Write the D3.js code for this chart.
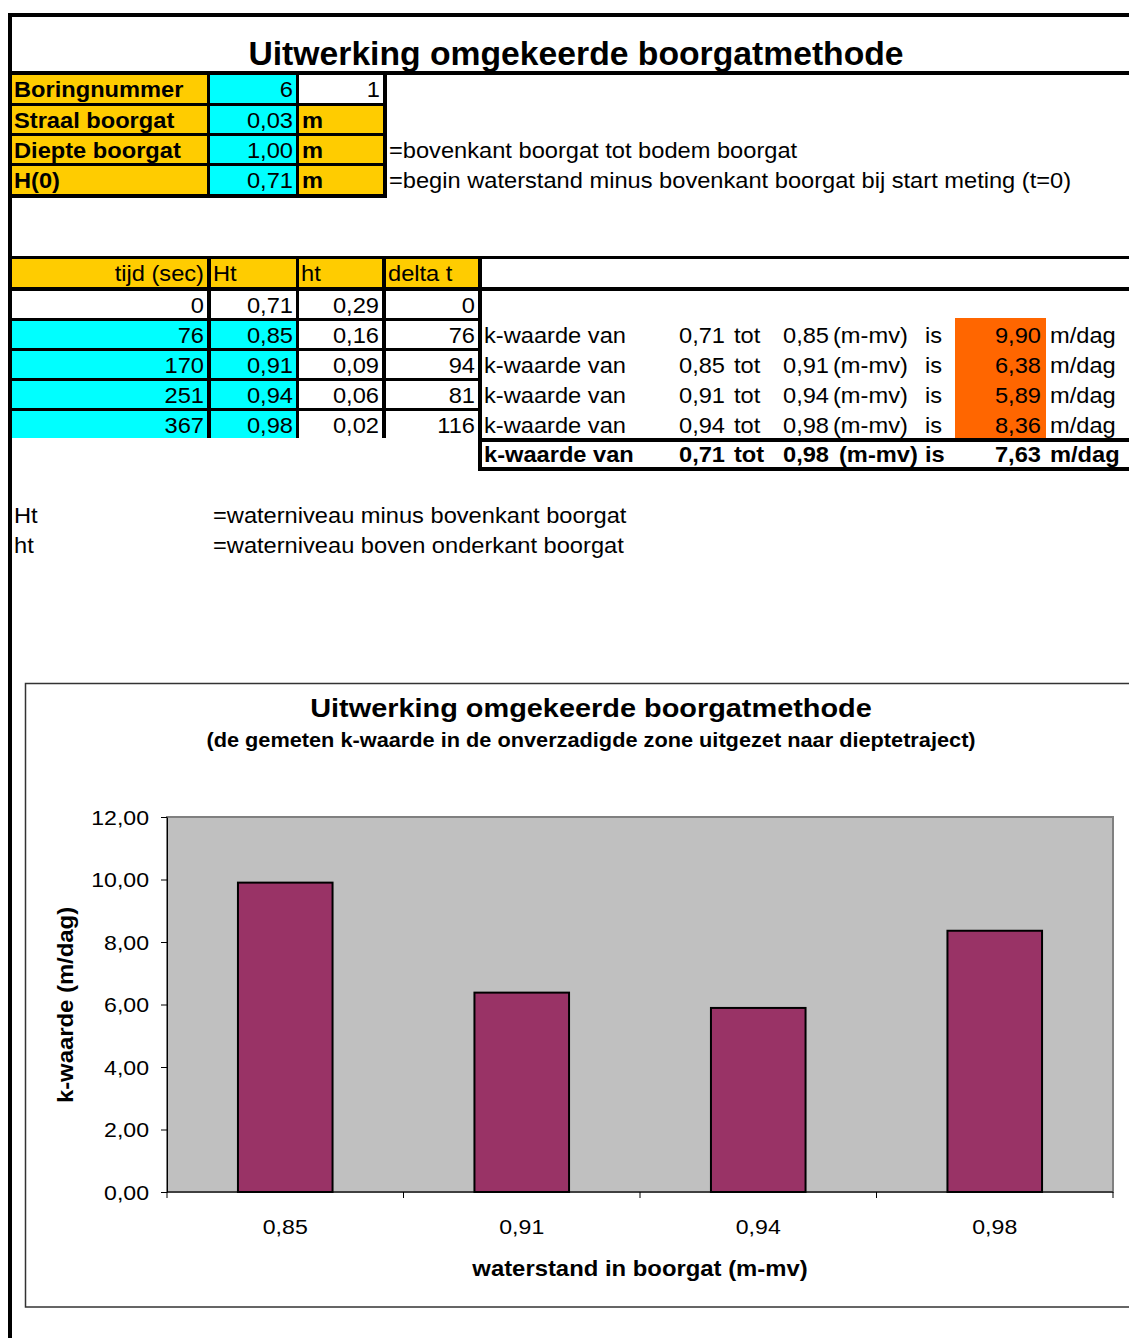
<!DOCTYPE html>
<html>
<head>
<meta charset="utf-8">
<script src="https://cdn.jsdelivr.net/npm/d3@7"></script>
<style>
  html, body { margin: 0; padding: 0; background: #fff; }
  svg { display: block; }
  text { font-family: "Liberation Sans", Arial, Helvetica, sans-serif; fill: #000; }
</style>
</head>
<body>
<svg id="sheet" width="1129" height="1338"></svg>
<script>
// ---- worksheet values ----
const sheetTitle = 'Uitwerking omgekeerde boorgatmethode';
const paramLabels = ['Boringnummer', 'Straal boorgat', 'Diepte boorgat', 'H(0)'];
const paramValues = ['6', '0,03', '1,00', '0,71'];
const paramExtra = ['1', 'm', 'm', 'm'];
const paramNotes = ['', '', '=bovenkant boorgat tot bodem boorgat',
  '=begin waterstand minus bovenkant boorgat bij start meting (t=0)'];

const tableHeaders = ['tijd (sec)', 'Ht', 'ht', 'delta t'];
const tijd = [0, 76, 170, 251, 367];
const Ht = [0.71, 0.85, 0.91, 0.94, 0.98];
const ht = [0.29, 0.16, 0.09, 0.06, 0.02];
const deltaT = [0, 76, 94, 81, 116];
const kWaarde = [9.90, 6.38, 5.89, 8.36];
const kTotaal = 7.63;

const termNames = ['Ht', 'ht'];
const termNotes = ['=waterniveau minus bovenkant boorgat', '=waterniveau boven onderkant boorgat'];

// ---- chart values ----
const chartTitle = 'Uitwerking omgekeerde boorgatmethode';
const chartSubtitle = '(de gemeten k-waarde in de onverzadigde zone uitgezet naar dieptetraject)';
const xTitle = 'waterstand in boorgat (m-mv)';
const yTitle = 'k-waarde (m/dag)';
const categories = Ht.slice(1);          // water level at end of each interval
const yTicks = [0, 2, 4, 6, 8, 10, 12];

// Dutch number formatting (decimal comma)
const nl = d3.formatLocale({ decimal: ',', thousands: '.', grouping: [3], currency: ['€', ''] });
const f2 = nl.format('.2f');

const YELLOW = '#FFCC00', CYAN = '#00FFFF', ORANGE = '#FF6600', BAR = '#993366', PLOT = '#C0C0C0';
const FONT = 21.5, SX = 1.1;

const svg = d3.select('#sheet');

// text helper: glyphs widened a little horizontally like the sheet rendering
function txt(parent, x, y, s, o = {}) {
  const size = o.size || FONT, sx = o.sx || SX;
  return parent.append('text')
    .attr('transform', `translate(${x},${y}) scale(${sx},1)`)
    .attr('text-anchor', o.anchor || 'start')
    .attr('font-size', size)
    .attr('font-weight', o.bold ? 'bold' : 'normal')
    .text(s);
}
function box(x0, y0, x1, y1, fill) {
  svg.append('rect').attr('x', x0).attr('y', y0).attr('width', x1 - x0).attr('height', y1 - y0).attr('fill', fill);
}

// ---- outer sheet frame ----
box(8, 13, 1129, 17, '#000');
box(8, 13, 12, 1338, '#000');

// ---- title ----
txt(svg, 576, 65, sheetTitle, { size: 33.7, sx: 1, bold: true, anchor: 'middle' });
box(12, 71, 1129, 75, '#000');

// ---- parameter block ----
box(12, 75, 387, 198, '#000');
const pRows = [[75, 103], [106, 133], [136, 163], [166, 194]];
const pCols = [[12, 207], [210, 296], [299, 383]];
pRows.forEach(([t, b], i) => {
  box(pCols[0][0], t, pCols[0][1], b, YELLOW);
  box(pCols[1][0], t, pCols[1][1], b, CYAN);
  box(pCols[2][0], t, pCols[2][1], b, i === 0 ? '#fff' : YELLOW);
  const base = (t + b) / 2 + 8;
  txt(svg, 14, base, paramLabels[i], { bold: true });
  txt(svg, 293, base, paramValues[i], { anchor: 'end' });
  if (i === 0) txt(svg, 380, base, paramExtra[i], { anchor: 'end' });
  else txt(svg, 302, base, paramExtra[i], { bold: true });
  if (paramNotes[i]) txt(svg, 389, base, paramNotes[i]);
});

// ---- measurement table ----
box(12, 256, 1129, 259, '#000');
const tCols = [[12, 207], [211, 296], [299, 382], [386, 478]];
box(12, 259, 482, 438, '#000');
tCols.forEach(([l, r], j) => {
  box(l, 259, r, 287, YELLOW);
  if (j === 0) txt(svg, r - 3, 281, tableHeaders[j], { anchor: 'end' });
  else txt(svg, l + 2, 281, tableHeaders[j]);
});
box(12, 287, 1129, 291, '#000');
box(478, 259, 482, 471, '#000');

const tRows = [[291, 318], [321, 348], [351, 378], [381, 408], [411, 438]];
const rowCells = (i) => [
  d3.format('d')(tijd[i]), f2(Ht[i]), f2(ht[i]), d3.format('d')(deltaT[i])
];
tRows.forEach(([t, b], i) => {
  const base = (t + b) / 2 + 8;
  tCols.forEach(([l, r], j) => {
    box(l, t, r, b, (i > 0 && j < 2) ? CYAN : '#fff');
    txt(svg, r - 3, base, rowCells(i)[j], { anchor: 'end' });
  });
});

// k-value per interval
box(955, 318, 1046, 438, ORANGE);
function kLine(y, from, to, k, bold, unitX) {
  txt(svg, 484, y, 'k-waarde van', { bold });
  txt(svg, 679, y, f2(from), { bold });
  txt(svg, 734, y, 'tot', { bold });
  txt(svg, 783, y, f2(to), { bold });
  txt(svg, unitX, y, '(m-mv)', { bold });
  txt(svg, 925, y, 'is', { bold });
  txt(svg, 1041, y, f2(k), { bold, anchor: 'end' });
  txt(svg, 1050, y, 'm/dag', { bold });
}
kWaarde.forEach((k, i) => {
  const [t, b] = tRows[i + 1];
  kLine((t + b) / 2 + 8, Ht[i], Ht[i + 1], k, false, 833);
});
box(478, 438, 1129, 442, '#000');
box(478, 467, 1129, 471, '#000');
kLine(462, Ht[0], Ht[Ht.length - 1], kTotaal, true, 839);

// term explanation
termNames.forEach((n, i) => {
  txt(svg, 14, 523 + i * 30, n);
  txt(svg, 213, 523 + i * 30, termNotes[i]);
});

// ---- bar chart ----
const chart = svg.append('g');
chart.append('rect').attr('x', 25.5).attr('y', 683.5).attr('width', 1120).attr('height', 623.5)
  .attr('fill', '#fff').attr('stroke', '#333').attr('stroke-width', 1.5);

const plot = { left: 167, right: 1113, top: 817, bottom: 1192 };
const x = d3.scaleBand().domain(categories.map(f2)).range([plot.left, plot.right]).paddingInner(0.6).paddingOuter(0.3);
const xb = d3.scaleBand().domain(categories.map(f2)).range([plot.left, plot.right]);
const y = d3.scaleLinear().domain([0, 12]).range([plot.bottom, plot.top]);

chart.append('rect').attr('x', plot.left).attr('y', plot.top)
  .attr('width', plot.right - plot.left).attr('height', plot.bottom - plot.top)
  .attr('fill', PLOT).attr('stroke', '#808080').attr('stroke-width', 2);

chart.selectAll('rect.bar').data(kWaarde).join('rect').attr('class', 'bar')
  .attr('x', (d, i) => x(f2(categories[i])))
  .attr('width', x.bandwidth())
  .attr('y', d => y(d))
  .attr('height', d => y(0) - y(d))
  .attr('fill', BAR).attr('stroke', '#000').attr('stroke-width', 2);

// y axis
const yAxis = chart.append('g').attr('transform', `translate(${plot.left},0)`)
  .call(d3.axisLeft(y).tickValues(yTicks).tickFormat(f2).tickSize(6).tickSizeOuter(0));
yAxis.select('.domain').attr('stroke', '#000');
yAxis.selectAll('.tick line').attr('stroke', '#000');
yAxis.selectAll('.tick text').remove();
yTicks.forEach(v => txt(chart, 149, y(v) + 7.5, f2(v), { size: 21, sx: 1.1, anchor: 'end' }));

// x axis with ticks on band boundaries
const xAxis = chart.append('g').attr('transform', `translate(0,${plot.bottom})`);
xAxis.append('line').attr('x1', plot.left).attr('x2', plot.right).attr('stroke', '#000');
const bounds = xb.domain().map(c => xb(c)).concat([plot.right]);
xAxis.selectAll('line.tk').data(bounds).join('line').attr('class', 'tk')
  .attr('x1', d => d).attr('x2', d => d).attr('y1', 0).attr('y2', 6).attr('stroke', '#000');
categories.forEach(c => {
  const k = f2(c);
  txt(chart, xb(k) + xb.bandwidth() / 2, 1234, k, { size: 21, sx: 1.1, anchor: 'middle' });
});

// titles
txt(chart, 591, 717, chartTitle, { size: 25.8, sx: 1.12, bold: true, anchor: 'middle' });
txt(chart, 591, 747, chartSubtitle, { size: 19.5, sx: 1.115, bold: true, anchor: 'middle' });
txt(chart, 640, 1276, xTitle, { size: 21.5, sx: 1.11, bold: true, anchor: 'middle' });
chart.append('text')
  .attr('transform', `translate(73,1005) rotate(-90) scale(1.11,1)`)
  .attr('text-anchor', 'middle').attr('font-size', 21.5).attr('font-weight', 'bold')
  .text(yTitle);
</script>
</body>
</html>
